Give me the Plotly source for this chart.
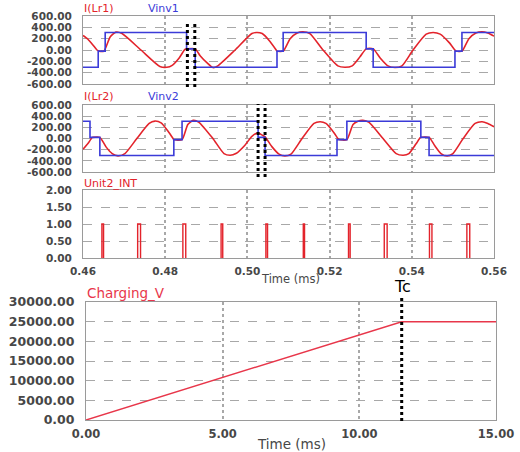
import plotly.graph_objects as go

# ---------------- data ----------------
# Panel 1: I(Lr1) (resonant current) and Vinv1 (inverter voltage), time in ms
ilr1_t = [0.4600, 0.4612, 0.4624, 0.4634, 0.4639, 0.4651, 0.4666, 0.4680, 0.4695, 0.4741,
          0.4787, 0.4804, 0.4817, 0.4834, 0.4848, 0.4853, 0.4873, 0.4885, 0.4902, 0.4916,
          0.4928, 0.4970, 0.5011, 0.5023, 0.5036, 0.5055, 0.5070, 0.5072, 0.5087, 0.5104,
          0.5121, 0.5135, 0.5152, 0.5184, 0.5220, 0.5237, 0.5255, 0.5274, 0.5289, 0.5306,
          0.5323, 0.5342, 0.5359, 0.5376, 0.5403, 0.5435, 0.5452, 0.5469, 0.5491, 0.5505,
          0.5508, 0.5522, 0.5539, 0.5556, 0.5571, 0.5585, 0.5600]
ilr1_v = [257, 190, 90, 0, -20, -20, 230, 315, 290, 0,
          -290, -305, -270, -140, 10, 20, 20, -100, -227, -310,
          -280, 0, 290, 310, 290, 150, 0, -20, -20, 200,
          300, 322, 290, 0, -280, -305, -280, -120, 20, 20,
          -140, -280, -310, -280, 0, 280, 310, 280, 130, 0,
          -20, -20, 200, 300, 322, 300, 244]

vinv1_t = [0.4600, 0.4637, 0.4654, 0.4852, 0.4873, 0.5072, 0.5087, 0.5289, 0.5306, 0.5505, 0.5522, 0.5600]
vinv1_v = [-305, -20, 310, 20, -305, -20, 310, 20, -305, -20, 310, 310]

# Panel 2: I(Lr2) and Vinv2
ilr2_t = [0.4600, 0.4612, 0.4622, 0.4624, 0.4641, 0.4656, 0.4671, 0.4685, 0.4702, 0.4731,
          0.4761, 0.4775, 0.4790, 0.4807, 0.4819, 0.4821, 0.4841, 0.4855, 0.4868, 0.4882,
          0.4916, 0.4943, 0.4958, 0.4972, 0.4994, 0.5011, 0.5026, 0.5036, 0.5043, 0.5060,
          0.5077, 0.5091, 0.5106, 0.5133, 0.5162, 0.5177, 0.5191, 0.5211, 0.5220, 0.5223,
          0.5242, 0.5257, 0.5269, 0.5281, 0.5296, 0.5330, 0.5362, 0.5379, 0.5393, 0.5410,
          0.5420, 0.5422, 0.5442, 0.5456, 0.5471, 0.5486, 0.5500, 0.5525, 0.5554, 0.5571,
          0.5585, 0.5600]
ilr2_v = [-193, -90, 15, 20, 20, -150, -270, -312, -270, 0,
          270, 312, 280, 130, 0, -20, -20, 250, 325, 290,
          0, -270, -300, -270, -120, 40, 100, 60, 30, -150,
          -280, -312, -280, 0, 270, 300, 270, 100, 0, -20,
          -20, 250, 310, 325, 290, 0, -270, -300, -270, -100,
          10, 20, 20, -130, -270, -312, -270, 0, 270, 300,
          270, 210]

vinv2_t = [0.4600, 0.4617, 0.4641, 0.4821, 0.4841, 0.5026, 0.5043, 0.5218, 0.5242, 0.5422, 0.5442, 0.5600]
vinv2_v = [310, 20, -305, -20, 310, 20, -305, -20, 310, 20, -305, -305]

# Panel 3: Unit2_INT pulses (start / end times, ms) at level 1
pulse_start = [0.4646, 0.4733, 0.4843, 0.4936, 0.5045, 0.5136, 0.5246, 0.5333, 0.5443, 0.5534]
pulse_end   = [0.4650, 0.4740, 0.4850, 0.4940, 0.5049, 0.5139, 0.5250, 0.5340, 0.5449, 0.5541]
pulse_level = 1.0

# Panel 4: Charging_V
charge_t = [0.0, 11.55, 15.0]
charge_v = [0, 25000, 25000]
tc_time = 11.55

# Markers (black dotted lines)
mark1_t = [0.4854, 0.4872]
mark2_t = [0.5026, 0.5043]

# Ticks
iv_ticks = [-600, -400, -200, 0, 200, 400, 600]
int_ticks = [0, 0.5, 1.0, 1.5, 2.0]
chg_ticks = [0, 5000, 10000, 15000, 20000, 25000, 30000]
t_ticks = [0.46, 0.48, 0.50, 0.52, 0.54, 0.56]
ms_ticks = [0, 5, 10, 15]

# ---------------- style ----------------
RED = "#e3232b"
RED2 = "#e8364a"
BLUE = "#3b3bd8"
GRID = "#a8a8a8"
FRAME = "#9a9a9a"
TXT = "#474747"
FAM = "DejaVu Sans"

W, H = 520, 452


def fx(px):
    return px / W


def fy(py):
    return 1 - py / H


fig = go.Figure()

fig.add_trace(go.Scatter(x=ilr1_t, y=ilr1_v, mode="lines", line=dict(color=RED, width=1.6, shape="spline", smoothing=0.6),
                         xaxis="x", yaxis="y", showlegend=False))
fig.add_trace(go.Scatter(x=vinv1_t, y=vinv1_v, mode="lines", line=dict(color=BLUE, width=1.6, shape="hv"),
                         xaxis="x", yaxis="y", showlegend=False))
fig.add_trace(go.Scatter(x=ilr2_t, y=ilr2_v, mode="lines", line=dict(color=RED, width=1.6, shape="spline", smoothing=0.6),
                         xaxis="x2", yaxis="y2", showlegend=False))
fig.add_trace(go.Scatter(x=vinv2_t, y=vinv2_v, mode="lines", line=dict(color=BLUE, width=1.6, shape="hv"),
                         xaxis="x2", yaxis="y2", showlegend=False))

px_, py_ = [], []
for a, b in zip(pulse_start, pulse_end):
    px_ += [a, a, b, b, None]
    py_ += [0, pulse_level, pulse_level, 0, None]
fig.add_trace(go.Scatter(x=px_, y=py_, mode="lines", line=dict(color=RED, width=1.4),
                         xaxis="x3", yaxis="y3", showlegend=False, connectgaps=False))

fig.add_trace(go.Scatter(x=charge_t, y=charge_v, mode="lines", line=dict(color=RED2, width=1.5),
                         xaxis="x4", yaxis="y4", showlegend=False))


def fmt(v):
    return f"{v:.2f}"


def yax(dom, rng, ticks, size):
    return dict(domain=dom, range=rng, tickvals=ticks, ticktext=[fmt(v) for v in ticks],
                showgrid=True, gridcolor=GRID, griddash="dash", gridwidth=1,
                showline=True, linecolor=FRAME, linewidth=1, mirror=True, zeroline=False,
                ticks="", ticklabelstandoff=8, automargin=False,
                tickfont=dict(family=FAM, size=size, color=TXT, weight="bold"), fixedrange=True)


def xax(dom, rng, ticks, anchor, show, size):
    return dict(domain=dom, range=rng, tickvals=ticks, ticktext=[fmt(v) for v in ticks],
                showticklabels=show, anchor=anchor,
                showgrid=True, gridcolor=GRID, griddash="dot", gridwidth=1.5,
                showline=True, linecolor=FRAME, linewidth=1, mirror=True, zeroline=False,
                ticks="", ticklabelstandoff=3, automargin=False,
                tickfont=dict(family=FAM, size=size, color=TXT, weight="bold"), fixedrange=True)


xd = [fx(83), fx(494)]
xd4 = [fx(86), fx(496)]

fig.update_layout(
    width=W, height=H, margin=dict(l=0, r=0, t=0, b=0, autoexpand=False),
    paper_bgcolor="white", plot_bgcolor="white", hovermode=False,
    xaxis=xax(xd, [0.46, 0.56], t_ticks, "y", False, 10.5),
    xaxis2=xax(xd, [0.46, 0.56], t_ticks, "y2", False, 10.5),
    xaxis3=xax(xd, [0.46, 0.56], t_ticks, "y3", True, 10.5),
    xaxis4=xax(xd4, [0, 15], ms_ticks, "y4", True, 11.5),
    yaxis=dict(**yax([fy(84), fy(16)], [-600, 600], iv_ticks, 10.5), anchor="x"),
    yaxis2=dict(**yax([fy(172), fy(105)], [-600, 600], iv_ticks, 10.5), anchor="x2"),
    yaxis3=dict(**yax([fy(258), fy(190)], [0, 2], int_ticks, 10.5), anchor="x3"),
    yaxis4=dict(**yax([fy(420), fy(302)], [0, 30000], chg_ticks, 12.5), anchor="x4"),
)

shapes = []
for t in mark1_t:
    shapes.append(dict(type="line", xref="x", yref="paper", x0=t, x1=t, y0=fy(87), y1=fy(22),
                       line=dict(color="black", width=3, dash="dot"), layer="above"))
for t in mark2_t:
    shapes.append(dict(type="line", xref="x2", yref="paper", x0=t, x1=t, y0=fy(177), y1=fy(104),
                       line=dict(color="black", width=3, dash="dot"), layer="above"))
shapes.append(dict(type="line", xref="x4", yref="paper", x0=tc_time, x1=tc_time, y0=fy(421), y1=fy(295),
                   line=dict(color="black", width=3, dash="dot"), layer="above"))
fig.update_layout(shapes=shapes)

ann = []


def label(text, x, y, color, size, xanchor="left"):
    ann.append(dict(text=text, x=fx(x), y=fy(y), xref="paper", yref="paper", showarrow=False,
                    xanchor=xanchor, yanchor="middle", font=dict(family=FAM, size=size, color=color)))


label("I(Lr1)", 82, 9, RED, 11)
label("Vinv1", 146, 9, BLUE, 11)
label("I(Lr2)", 82, 97, RED, 11)
label("Vinv2", 146, 97, BLUE, 11)
label("Unit2_INT", 82, 183, RED, 11)
label("Charging_V", 85, 293, RED2, 13.5)
label("Time (ms)", 290, 279, TXT, 11.5, "center")
label("Time (ms)", 291, 444, TXT, 13.5, "center")
label("Tc", 402, 286, "black", 16, "center")
fig.update_layout(annotations=ann)

fig.write_html("out.html", config={"displayModeBar": False},
               post_script="document.body.style.margin='0';document.body.style.overflow='hidden';")
